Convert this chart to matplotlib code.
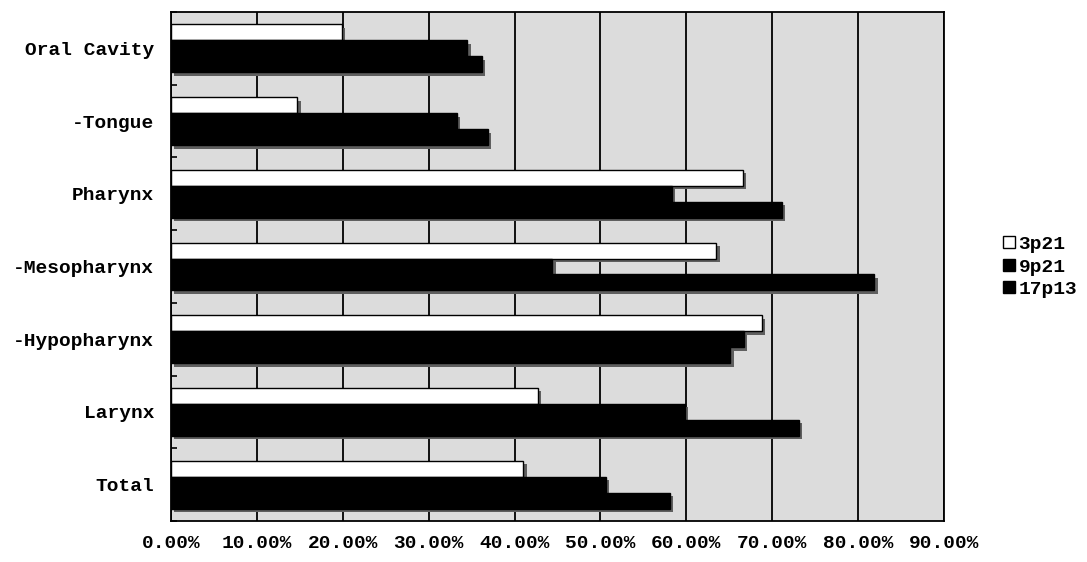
import numpy as np
import matplotlib.pyplot as plt
import matplotlib.patheffects as pe
from matplotlib.lines import Line2D

plt.rcParams['font.family'] = 'Liberation Mono'
plt.rcParams['font.weight'] = 'bold'

categories = ['Oral Cavity', '-Tongue', 'Pharynx', '-Mesopharynx',
              '-Hypopharynx', 'Larynx', 'Total']
series = ['3p21', '9p21', '17p13']
v_3p21 = [19.9, 14.7, 66.6, 63.5, 68.8, 42.7, 41.0]
v_9p21 = [34.5, 33.3, 58.3, 44.4, 66.7, 59.8, 50.6]
v_17p13 = [36.2, 36.9, 71.1, 81.9, 65.1, 73.1, 58.1]
xticks = [0, 10, 20, 30, 40, 50, 60, 70, 80, 90]

fig = plt.figure(figsize=(10.87, 5.62), dpi=100)
ax = fig.add_axes([0.1573, 0.0730, 0.8684 - 0.1573, 0.9786 - 0.0730])
ax.set_facecolor('#dcdcdc')

y = np.arange(len(categories))
h = 0.22
# grey drop shadow like the old spreadsheet charts
shadow = [pe.SimplePatchShadow(offset=(2.5, -2.5), shadow_rgbFace='#5f5f5f', alpha=1),
          pe.Normal()]
faces = ['white', 'black', 'black']
for k, vals in enumerate([v_3p21, v_9p21, v_17p13]):
    bars = ax.barh(y + (k - 1) * h, vals, height=h, color=faces[k],
                   edgecolor='black', linewidth=1, zorder=3)
    for b in bars:
        b.set_path_effects(shadow)

ax.set_xlim(0, 90)
ax.set_ylim(len(categories) - 0.5, -0.5)
ax.set_xticks(xticks)
ax.set_xticklabels([f'{t:.2f}%' for t in xticks], fontsize=14)
ax.set_yticks(y)
ax.set_yticklabels(categories, fontsize=14)
ax.set_yticks(np.arange(len(categories) + 1) - 0.5, minor=True)
ax.tick_params(axis='y', which='major', length=0, pad=12)
ax.tick_params(axis='y', which='minor', direction='in', length=4, width=1.2)
ax.tick_params(axis='x', length=0, pad=10)
ax.grid(axis='x', color='black', linewidth=1.3, zorder=1)
ax.set_axisbelow(True)
for s in ax.spines.values():
    s.set_linewidth(1.3)

handles = [Line2D([], [], marker='s', linestyle='none', markersize=9,
                  markerfacecolor=f, markeredgecolor='black', markeredgewidth=1)
           for f in faces]
fig.legend(handles, series, loc='center left', bbox_to_anchor=(0.903, 0.525),
           frameon=False, fontsize=14, handletextpad=0.0, labelspacing=0.25,
           handlelength=1.0)

fig.savefig('out.png', dpi=100)
